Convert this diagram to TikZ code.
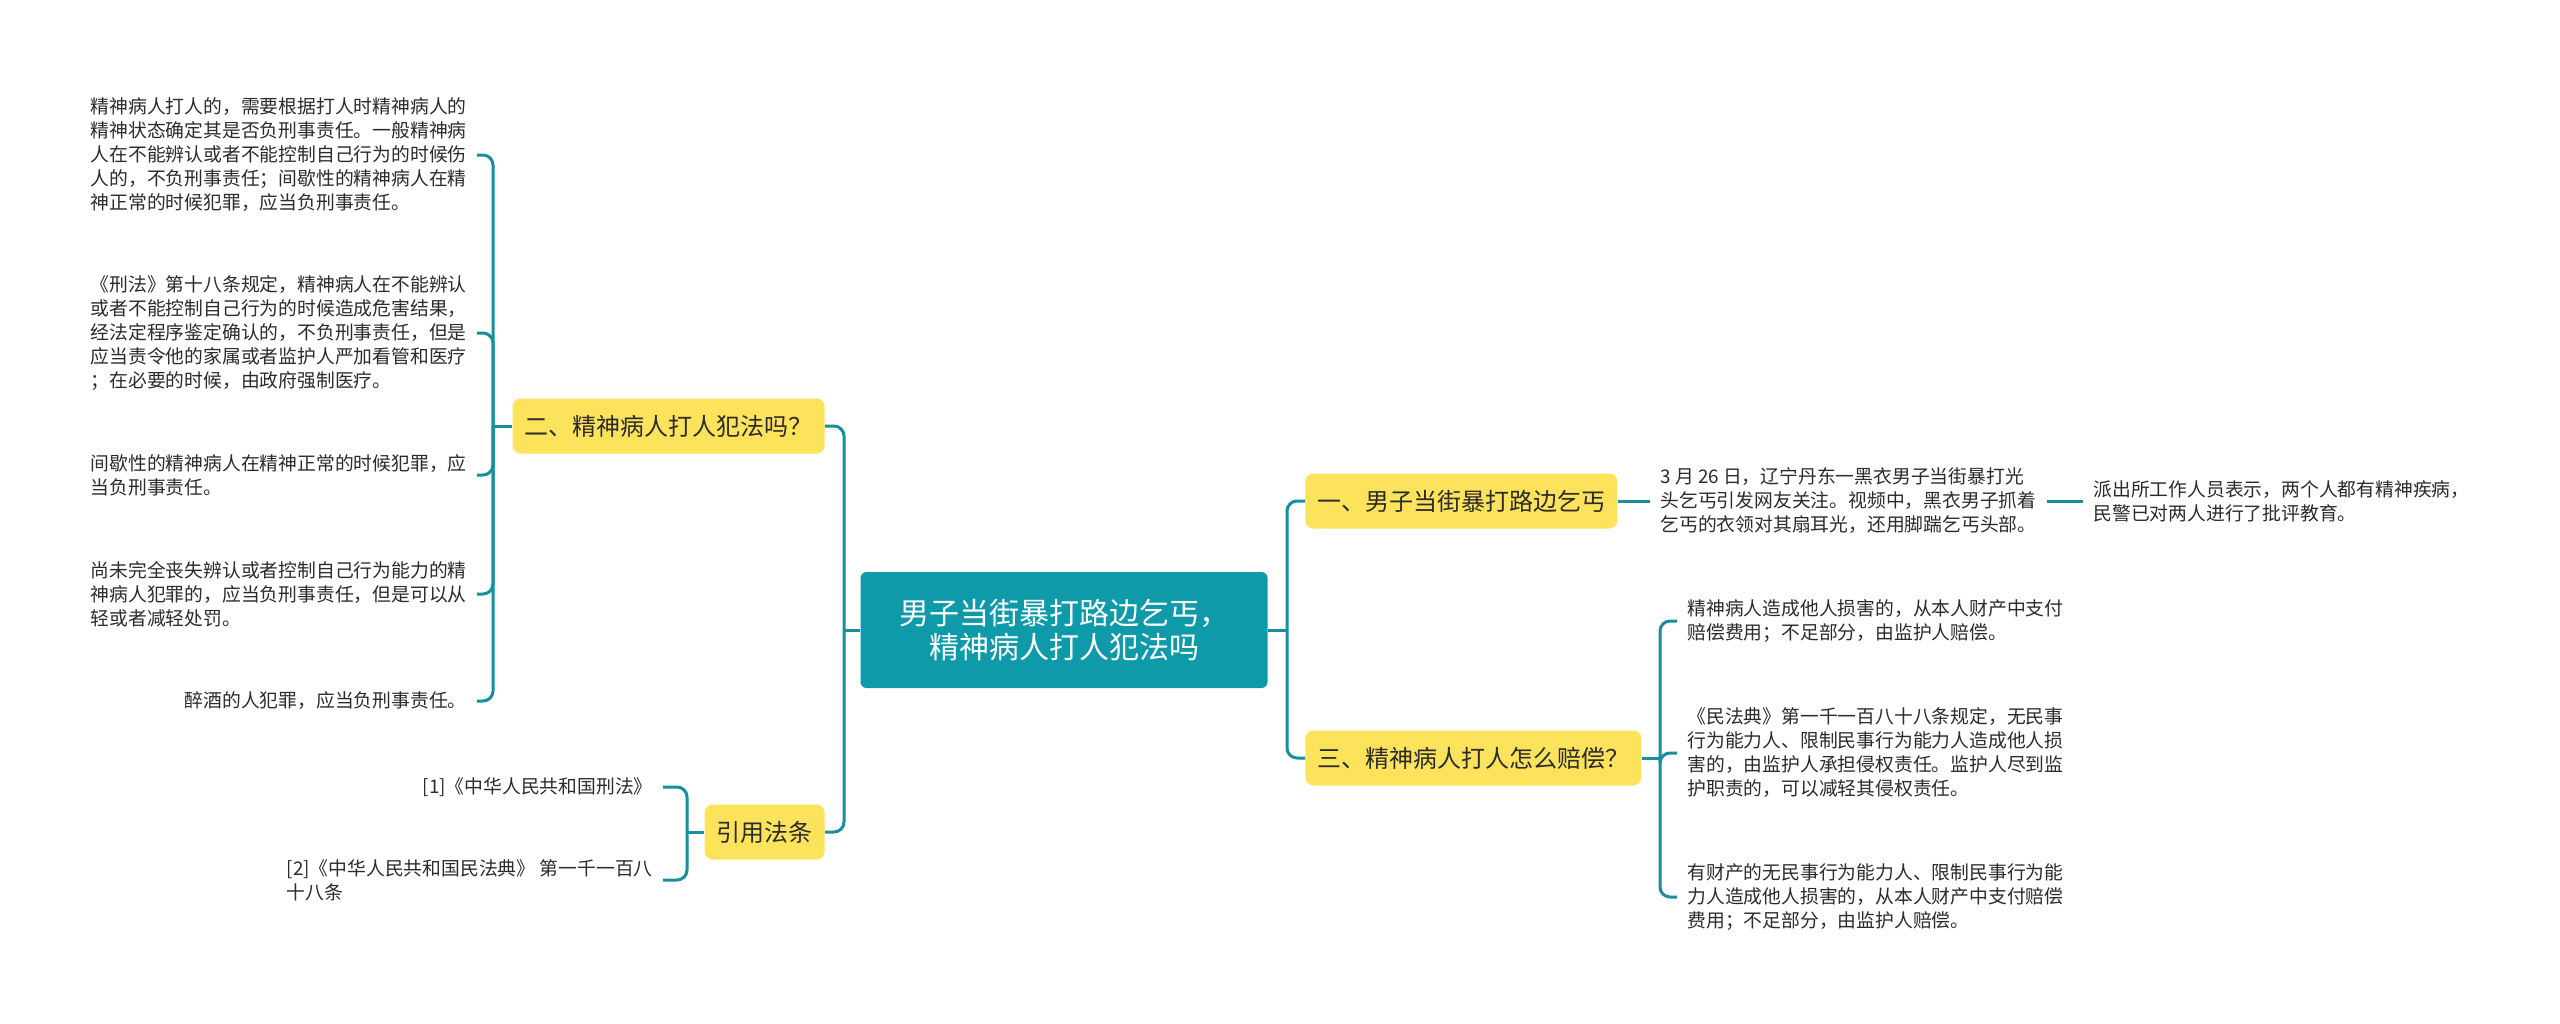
\documentclass[tikz,border=0pt]{standalone}
\usepackage{fontspec}
\setmainfont{Noto Sans CJK SC}
\usetikzlibrary{positioning}
\definecolor{ink}   {HTML}{2B2B2B}
\definecolor{lake}  {HTML}{0E9AA9}
\definecolor{branch}{HTML}{178F9D}
\definecolor{sun}   {HTML}{FDE35B}
\tikzset{
  % --- nodes
  root/.style  = {rounded corners=3pt, fill=lake, text=white, align=center,
                  minimum width=203.5pt, minimum height=58pt, inner sep=0pt,
                  font=\fontsize{15pt}{17pt}\selectfont},
  topic/.style = {rounded corners=4pt, fill=sun, text=ink, minimum height=27.5pt,
                  inner xsep=6pt, font=\fontsize{12pt}{14pt}\selectfont},
  leaf/.style  = {text=ink, align=left, inner xsep=5pt, inner ysep=2pt,
                  font=\fontsize{9.4pt}{12pt}\selectfont},
  leafl/.style = {leaf, anchor=east},
  leafr/.style = {leaf, anchor=west},
  % --- edges
  e/.style     = {draw=branch, line width=1.5pt, rounded corners=5pt},
}
\begin{document}
\begin{tikzpicture}[x=0.5pt,y=-0.5pt]
  \useasboundingbox (0,0) rectangle (2560,1023);
  \fill[white] (0,0) rectangle (2560,1023);

  \node[root] (root) at (1064,630) {男子当街暴打路边乞丐，\\精神病人打人犯法吗};

  % --- left side
  \node[topic, anchor=east] (n2) at (825,426) {二、精神病人打人犯法吗？};
  \node[topic, anchor=east] (n4) at (825,832) {引用法条};

  \node[leafl] (l1) at (477,155) {精神病人打人的，需要根据打人时精神病人的\\精神状态确定其是否负刑事责任。一般精神病\\人在不能辨认或者不能控制自己行为的时候伤\\人的，不负刑事责任；间歇性的精神病人在精\\神正常的时候犯罪，应当负刑事责任。};
  \node[leafl] (l2) at (477,333) {《刑法》第十八条规定，精神病人在不能辨认\\或者不能控制自己行为的时候造成危害结果，\\经法定程序鉴定确认的，不负刑事责任，但是\\应当责令他的家属或者监护人严加看管和医疗\\；在必要的时候，由政府强制医疗。};
  \node[leafl] (l3) at (477,475) {间歇性的精神病人在精神正常的时候犯罪，应\\当负刑事责任。};
  \node[leafl] (l4) at (477,594) {尚未完全丧失辨认或者控制自己行为能力的精\\神病人犯罪的，应当负刑事责任，但是可以从\\轻或者减轻处罚。};
  \node[leafl] (l5) at (477,701) {醉酒的人犯罪，应当负刑事责任。};

  \node[leafl] (r1) at (663,787) {[1]《中华人民共和国刑法》};
  \node[leafl] (r2) at (663,880) {[2]《中华人民共和国民法典》 第一千一百八\\十八条};

  % --- right side
  \node[topic, anchor=west] (n1) at (1305,501) {一、男子当街暴打路边乞丐};
  \node[topic, anchor=west] (n3) at (1305,758) {三、精神病人打人怎么赔偿？};

  \node[leafr] (a) at (1650,501) {3 月 26 日，辽宁丹东一黑衣男子当街暴打光\\头乞丐引发网友关注。视频中，黑衣男子抓着\\乞丐的衣领对其扇耳光，还用脚踹乞丐头部。};
  \node[leafr] (b) at (2083,501) {派出所工作人员表示，两个人都有精神疾病，\\民警已对两人进行了批评教育。};

  \node[leafr] (c1) at (1677,621) {精神病人造成他人损害的，从本人财产中支付\\赔偿费用；不足部分，由监护人赔偿。};
  \node[leafr] (c2) at (1677,753) {《民法典》第一千一百八十八条规定，无民事\\行为能力人、限制民事行为能力人造成他人损\\害的，由监护人承担侵权责任。监护人尽到监\\护职责的，可以减轻其侵权责任。};
  \node[leafr] (c3) at (1677,897) {有财产的无民事行为能力人、限制民事行为能\\力人造成他人损害的，从本人财产中支付赔偿\\费用；不足部分，由监护人赔偿。};

  % --- junctions
  \coordinate (jl) at (844,630);
  \coordinate (j2) at (493,426);
  \coordinate (j4) at (687,832);
  \coordinate (jr) at (1287,630);
  \coordinate (j3) at (1660,758);

  \draw[e] (root.west)--(jl); \draw[e] (jl) |- (n2.east); \draw[e] (jl) |- (n4.east);
  \draw[e] (n2.west)--(j2);
  \draw[e] (j2) |- (l1.east); \draw[e] (j2) |- (l2.east); \draw[e] (j2) |- (l3.east);
  \draw[e] (j2) |- (l4.east); \draw[e] (j2) |- (l5.east);
  \draw[e] (n4.west)--(j4); \draw[e] (j4) |- (r1.east); \draw[e] (j4) |- (r2.east);

  \draw[e] (root.east)--(jr); \draw[e] (jr) |- (n1.west); \draw[e] (jr) |- (n3.west);
  \draw[e] (n1.east)--(a.west); \draw[e] (a.east)--(b.west);
  \draw[e] (n3.east)--(j3);
  \draw[e] (j3) |- (c1.west); \draw[e] (j3) |- (c2.west); \draw[e] (j3) |- (c3.west);
\end{tikzpicture}
\end{document}
